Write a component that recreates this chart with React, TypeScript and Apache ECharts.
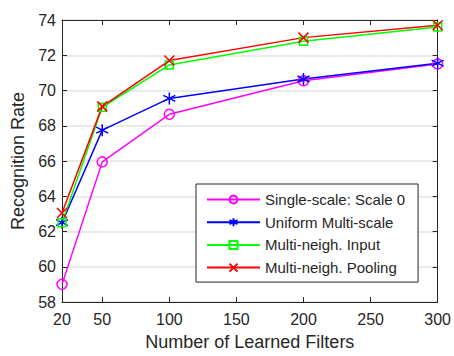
import React, { useEffect, useRef } from "react";
import * as echarts from "echarts";

const xTicks = [20, 50, 100, 150, 200, 250, 300];
const filters = [20, 50, 100, 200, 300];
const singleScale = [59.0, 65.95, 68.65, 70.55, 71.5];
const uniformMulti = [62.5, 67.75, 69.55, 70.65, 71.55];
const multiInput = [62.5, 69.05, 71.45, 72.8, 73.6];
const multiPooling = [63.05, 69.1, 71.7, 73.0, 73.7];
const names = [
  "Single-scale: Scale 0",
  "Uniform Multi-scale",
  "Multi-neigh. Input",
  "Multi-neigh. Pooling",
];

const FONT = "'Liberation Sans', Arial, Helvetica, sans-serif";
const TXT = "#262626";

export default function App() {
  const ref = useRef<HTMLDivElement>(null);
  useEffect(() => {
    document.body.style.margin = "0";
    if (!ref.current) return;
    const chart = echarts.init(ref.current, null, { renderer: "svg" });
    const mk = (
      name: string,
      vals: number[],
      color: string,
      symbol: string,
      size: number
    ) => ({
      name,
      type: "line",
      data: filters.map((f, i) => [f, vals[i]]),
      symbol,
      symbolSize: size,
      showSymbol: true,
      lineStyle: { color, width: 1.5 },
      itemStyle: { color: "transparent", borderColor: color, borderWidth: 1.5 },
      emphasis: { disabled: true },
      z: 3,
    });
    chart.setOption({
      animation: false,
      textStyle: { fontFamily: FONT },
      grid: { left: 62, right: 12, top: 20, bottom: 48 },
      xAxis: [
        {
          type: "value",
          min: 20,
          max: 300,
          name: "Number of Learned Filters",
          nameLocation: "middle",
          nameGap: 31,
          nameTextStyle: { fontSize: 18, color: TXT, fontFamily: FONT },
          axisLine: { show: true, lineStyle: { color: TXT, width: 1 } },
          axisTick: {
            show: true,
            inside: true,
            length: 5,
            customValues: xTicks,
            lineStyle: { color: TXT },
          },
          axisLabel: {
            customValues: xTicks,
            fontSize: 16,
            color: TXT,
            margin: 9,
            fontFamily: FONT,
          },
          splitLine: { show: false },
        },
        {
          type: "value",
          position: "top",
          min: 20,
          max: 300,
          axisLine: { show: true, onZero: false, lineStyle: { color: TXT, width: 1 } },
          axisTick: {
            show: true,
            inside: true,
            length: 5,
            customValues: xTicks,
            lineStyle: { color: TXT },
          },
          axisLabel: { show: false },
          splitLine: { show: false },
        },
      ],
      yAxis: [
        {
          type: "value",
          min: 58,
          max: 74,
          interval: 2,
          name: "Recognition Rate",
          nameLocation: "middle",
          nameGap: 33,
          nameTextStyle: { fontSize: 18, color: TXT, fontFamily: FONT },
          axisLine: { show: true, lineStyle: { color: TXT, width: 1 } },
          axisTick: { show: true, inside: true, length: 5, lineStyle: { color: TXT } },
          axisLabel: { fontSize: 16, color: TXT, margin: 6, fontFamily: FONT },
          splitLine: { show: true, lineStyle: { color: "#e3e3e3", width: 1.5 } },
        },
        {
          type: "value",
          position: "right",
          min: 58,
          max: 74,
          interval: 2,
          axisLine: { show: true, onZero: false, lineStyle: { color: TXT, width: 1 } },
          axisTick: { show: true, inside: true, length: 5, lineStyle: { color: TXT } },
          axisLabel: { show: false },
          splitLine: { show: false },
        },
      ],
      legend: {
        orient: "vertical",
        left: 196,
        top: 184,
        padding: [8, 13, 7, 10],
        itemWidth: 53,
        itemHeight: 10,
        itemGap: 7.7,
        backgroundColor: "#ffffff",
        borderColor: TXT,
        borderWidth: 1,
        borderRadius: 0,
        textStyle: { fontSize: 15, color: TXT, fontFamily: FONT },
        data: names,
        selectedMode: false,
      },
      series: [
        mk(names[0], singleScale, "#ff00ff", "circle", 10),
        mk(
          names[1],
          uniformMulti,
          "#0000ff",
          "path://M5,0L5,10M0.7,2.5L9.3,7.5M9.3,2.5L0.7,7.5",
          12
        ),
        mk(names[2], multiInput, "#00ff00", "rect", 8),
        mk(names[3], multiPooling, "#ff0000", "path://M0,0L10,10M10,0L0,10", 10),
      ],
    });
    return () => chart.dispose();
  }, []);
  return <div ref={ref} style={{ width: 454, height: 356 }} />;
}
